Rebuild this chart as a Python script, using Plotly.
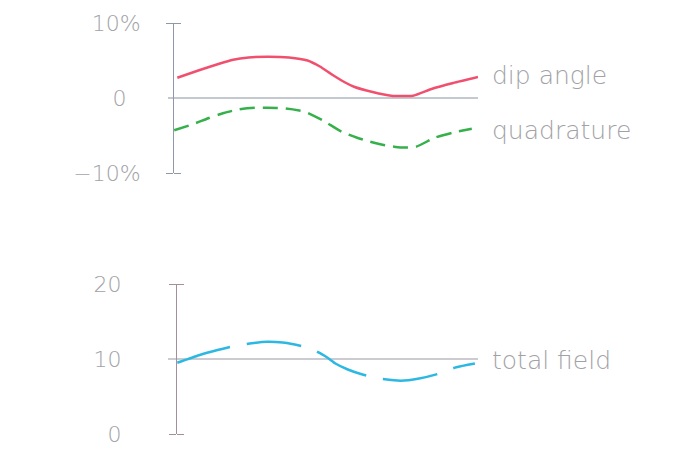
import plotly.graph_objects as go

# ---- data (stations along profile, 0..100) ----
dip_x = [3, 10, 16, 21, 26, 32, 39, 45, 49, 53, 57, 60, 66, 72, 79, 85, 92, 100]
dip_y = [2.7, 3.7, 4.5, 5.1, 5.4, 5.5, 5.4, 5.0, 4.2, 3.1, 2.1, 1.5, 0.8, 0.3, 0.3, 1.2, 2.0, 2.8]

quad_x = [2, 8, 13, 18, 23, 28, 32, 38, 44, 50, 56, 61, 65, 70, 75, 80, 86, 92, 98]
quad_y = [-4.3, -3.5, -2.7, -2.0, -1.5, -1.3, -1.3, -1.4, -1.8, -3.0, -4.5, -5.3, -5.8, -6.3, -6.6, -6.5, -5.3, -4.6, -4.1]

tf_x = [3, 10, 16, 21, 27, 32, 37, 40, 46, 51, 54, 58, 63, 68, 75, 81, 87, 93, 99]
tf_y = [9.5, 10.5, 11.2, 11.7, 12.1, 12.3, 12.2, 12.0, 11.4, 10.3, 9.4, 8.6, 7.9, 7.4, 7.1, 7.4, 8.0, 8.9, 9.4]

top_ticks = [-10, 0, 10]
top_ticktext = ["\u221210%", "0\u2007", "10%"]
top_end_ticks = [-10, 10]
bot_ticks = [0, 10, 20]
bot_ticktext = ["0", "10", "20"]
bot_end_ticks = [0, 20]

TOP_BASE = 0
BOT_BASE = 10

labels = [("dip angle", 3.0, "y"), ("quadrature", -4.3, "y"), ("total field", 9.8, "y2")]

# ---- styles ----
W, H = 685, 467
FONT = "DejaVu Sans"
TXT = "#a2a2a6"
fig = go.Figure()

fig.add_trace(go.Scatter(x=dip_x, y=dip_y, mode="lines", xaxis="x", yaxis="y",
                         line=dict(color="#f0506e", width=2.5, shape="spline", smoothing=0.5)))
fig.add_trace(go.Scatter(x=quad_x, y=quad_y, mode="lines", xaxis="x", yaxis="y",
                         line=dict(color="#35b04a", width=2.5, dash="15px,8px", shape="spline", smoothing=0.5)))
fig.add_trace(go.Scatter(x=tf_x, y=tf_y, mode="lines", xaxis="x2", yaxis="y2",
                         line=dict(color="#2cb8e2", width=2.5, dash="55px,17px", shape="spline", smoothing=0.5)))
# empty traces so that the tick-only overlay axes are drawn
for xa, ya in [("x", "y3"), ("x", "y4"), ("x2", "y5"), ("x2", "y6")]:
    fig.add_trace(go.Scatter(x=[None], y=[None], mode="lines", xaxis=xa, yaxis=ya,
                             hoverinfo="skip", showlegend=False))

xdom = [168 / W, 478 / W]
top_dom = [1 - 173 / H, 1 - 23 / H]
bot_dom = [1 - 434 / H, 1 - 284 / H]
top_pos = 173 / W
bot_pos = 176 / W
top_col = "#8f98a8"
bot_col = "#a38f9a"
tfont = dict(family=FONT, size=22, color=TXT, weight=200)


def tick_axis(over, rng, pos, vals, col, side):
    return dict(overlaying=over, range=rng, anchor="free", position=pos, automargin=False,
                side=side, showgrid=False, zeroline=False, showline=False, tickmode="array",
                tickvals=vals, ticks="outside", ticklen=7, tickcolor=col, tickwidth=1,
                showticklabels=False)


fig.update_layout(
    width=W, height=H, margin=dict(l=0, r=0, t=0, b=0, pad=0),
    paper_bgcolor="white", plot_bgcolor="white", showlegend=False,
    xaxis=dict(domain=xdom, range=[0, 100], visible=False, automargin=False),
    xaxis2=dict(domain=xdom, range=[0, 100], visible=False, anchor="y2", automargin=False),
    yaxis=dict(domain=top_dom, range=[-10, 10], anchor="free", position=top_pos, automargin=False,
               showgrid=False, zeroline=False, showline=True, linecolor=top_col, linewidth=1,
               tickmode="array", tickvals=top_ticks, ticktext=top_ticktext, ticks="",
               tickfont=tfont, ticklabelstandoff=28),
    yaxis3=tick_axis("y", [-10, 10], top_pos, top_end_ticks, top_col, "left"),
    yaxis4=tick_axis("y", [-10, 10], top_pos, top_end_ticks, top_col, "right"),
    yaxis2=dict(domain=bot_dom, range=[0, 20], anchor="free", position=bot_pos, automargin=False,
                showgrid=False, zeroline=False, showline=True, linecolor=bot_col, linewidth=1,
                tickmode="array", tickvals=bot_ticks, ticktext=bot_ticktext, ticks="",
                tickfont=tfont, ticklabelstandoff=50),
    yaxis5=tick_axis("y2", [0, 20], bot_pos, bot_end_ticks, bot_col, "left"),
    yaxis6=tick_axis("y2", [0, 20], bot_pos, bot_end_ticks, bot_col, "right"),
)

fig.add_shape(type="line", xref="x domain", yref="y", x0=0, x1=1, y0=TOP_BASE, y1=TOP_BASE,
              line=dict(color="#8a94a2", width=1.2), layer="below")
fig.add_shape(type="line", xref="x2 domain", yref="y2", x0=0, x1=1, y0=BOT_BASE, y1=BOT_BASE,
              line=dict(color="#9a98a6", width=1.2), layer="below")

for text, yv, yr in labels:
    fig.add_annotation(text=text, xref="paper", x=490 / W, xanchor="left",
                       yref=yr, y=yv, yanchor="middle", showarrow=False,
                       font=dict(family=FONT, size=25, color=TXT, weight=200))

fig.write_html("out.html")
